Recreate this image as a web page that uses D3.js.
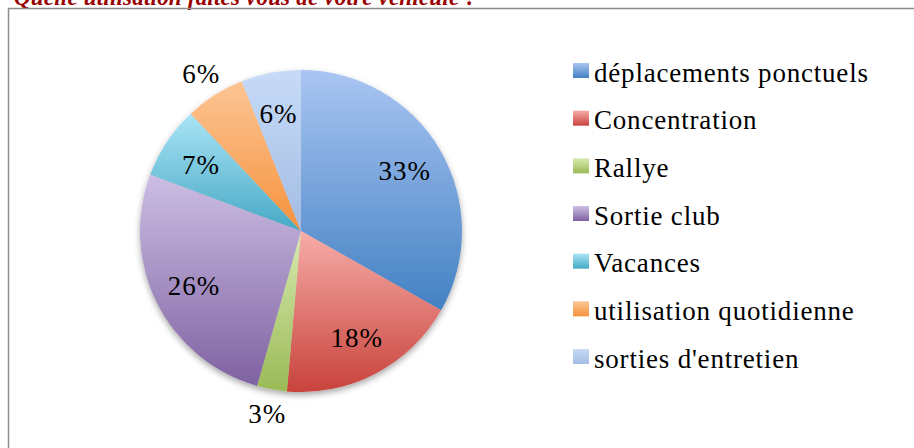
<!DOCTYPE html>
<html>
<head>
<meta charset="utf-8">
<script src="https://cdn.jsdelivr.net/npm/d3@7"></script>
<style>
  html, body { margin: 0; padding: 0; background: #fff; }
  svg { display: block; }
</style>
</head>
<body>
<script>
// chart data
const categories = ["déplacements ponctuels", "Concentration", "Rallye", "Sortie club",
  "Vacances", "utilisation quotidienne", "sorties d'entretien"];
const shares = [33.2, 18.2, 3.0, 26.3, 7.3, 6.0, 6.0];
const pctLabels = ["33%", "18%", "3%", "26%", "7%", "6%", "6%"];
const outsideLabels = ["Rallye", "utilisation quotidienne"];
const topColors = ["#a9c5f2", "#f7aca8", "#d8eab0", "#ccbee4", "#aae4f6", "#fcc594", "#c7dbf8"];
const bottomColors = ["#4381c3", "#c8433c", "#9aba56", "#7f62a1", "#46a9c5", "#f6923d", "#a2bce2"];
const title = "Quelle utilisation faites vous de votre véhicule ?";

const width = 914, height = 448;
const cx = 301, cy = 231, radius = 161;
const font = "'Liberation Serif', 'Times New Roman', serif";

const data = categories.map((name, i) => ({ name, value: shares[i], label: pctLabels[i], i }));

const svg = d3.select("body").append("svg")
    .attr("width", width)
    .attr("height", height);

const defs = svg.append("defs");

data.forEach(d => {
    const grad = defs.append("linearGradient")
        .attr("id", "grad" + d.i)
        .attr("x1", 0).attr("y1", 0).attr("x2", 0).attr("y2", 1);
    grad.append("stop").attr("offset", "0%").attr("stop-color", topColors[d.i]);
    grad.append("stop").attr("offset", "100%").attr("stop-color", bottomColors[d.i]);
});

const shadow = defs.append("filter")
    .attr("id", "shadow")
    .attr("x", "-20%").attr("y", "-20%")
    .attr("width", "140%").attr("height", "140%");
shadow.append("feDropShadow")
    .attr("dx", 0).attr("dy", 3)
    .attr("stdDeviation", 3)
    .attr("flood-color", "#000")
    .attr("flood-opacity", 0.35);

// title, mostly cut off at the top (as in the original)
svg.append("text")
    .attr("x", 14)
    .attr("y", 5)
    .style("font-family", font)
    .style("font-style", "italic")
    .style("font-weight", "bold")
    .style("font-size", "23px")
    .style("letter-spacing", "0.2px")
    .style("fill", "#990000")
    .text(title);

// chart frame
svg.append("rect")
    .attr("x", 8.5)
    .attr("y", 8.5)
    .attr("width", 920)
    .attr("height", 460)
    .attr("fill", "none")
    .attr("stroke", "#8c8c8c")
    .attr("stroke-width", 1.5);

const pie = d3.pie()
    .value(d => d.value)
    .sort(null);

const arcs = pie(data);

const arc = d3.arc()
    .innerRadius(0)
    .outerRadius(radius);

const labelArc = d3.arc()
    .innerRadius(120)
    .outerRadius(120);

const outerLabelArc = d3.arc()
    .innerRadius(186)
    .outerRadius(186);

const g = svg.append("g")
    .attr("transform", `translate(${cx},${cy})`);

g.append("g")
    .attr("filter", "url(#shadow)")
    .selectAll("path")
    .data(arcs)
    .join("path")
    .attr("d", arc)
    .attr("fill", d => `url(#grad${d.data.i})`);

g.append("g")
    .selectAll("text")
    .data(arcs)
    .join("text")
    .attr("transform", d => {
        const a = outsideLabels.includes(d.data.name) ? outerLabelArc : labelArc;
        return `translate(${a.centroid(d)})`;
    })
    .attr("text-anchor", "middle")
    .attr("dy", "0.35em")
    .style("font-family", font)
    .style("font-size", "27px")
    .style("letter-spacing", "1px")
    .style("fill", "#000")
    .text(d => d.data.label);

// legend
const legend = svg.append("g")
    .attr("transform", "translate(573,63)");

const y = d3.scalePoint()
    .domain(categories)
    .range([0, 286]);

const item = legend.selectAll("g")
    .data(data)
    .join("g")
    .attr("transform", d => `translate(0,${y(d.name)})`);

item.append("rect")
    .attr("width", 16)
    .attr("height", 15)
    .attr("fill", d => `url(#grad${d.i})`);

item.append("text")
    .attr("x", 21)
    .attr("y", 18.5)
    .style("font-family", font)
    .style("font-size", "27px")
    .style("letter-spacing", "0.8px")
    .style("fill", "#000")
    .text(d => d.name);
</script>
</body>
</html>
